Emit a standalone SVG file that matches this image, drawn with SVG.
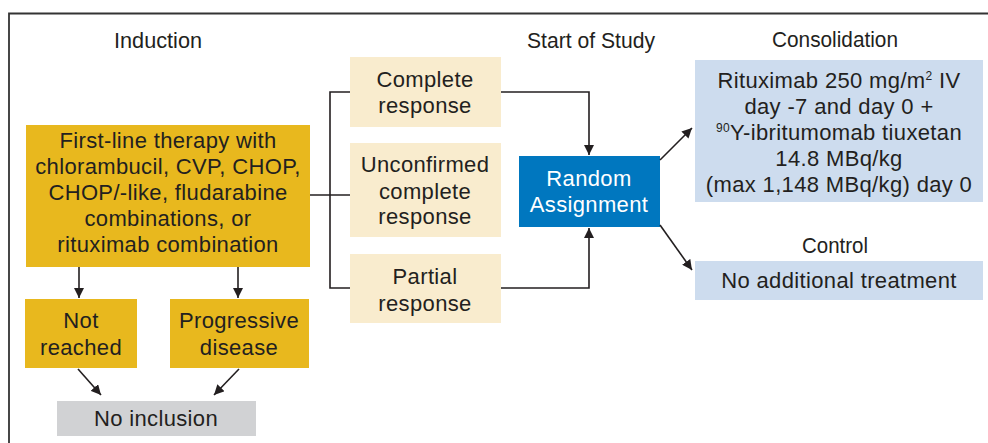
<svg xmlns="http://www.w3.org/2000/svg" width="988" height="443" viewBox="0 0 988 443">
<style>
.t{font-family:"Liberation Sans",Arial,sans-serif;font-size:22px;fill:#231f20;text-anchor:middle;letter-spacing:0.35px}
.h{font-family:"Liberation Sans",Arial,sans-serif;font-size:22px;fill:#231f20;text-anchor:middle}
.w{fill:#ffffff}
.ln{fill:none;stroke:#231f20;stroke-width:1.6}
.sup{font-size:12px}
</style>
<defs>
<marker id="ah" viewBox="0 0 10 10" refX="10" refY="5" markerWidth="10" markerHeight="10" markerUnits="userSpaceOnUse" orient="auto">
<path d="M0,0 L10,5 L0,10 Z" fill="#231f20"/>
</marker>
</defs>
<rect width="988" height="443" fill="#ffffff"/>
<path d="M9,443 L9,13.5 L988,13.5" fill="none" stroke="#333333" stroke-width="1.8"/>
<g id="labels">
<text class="h" x="158" y="48" textLength="88" lengthAdjust="spacingAndGlyphs">Induction</text>
<text class="h" x="591" y="48" textLength="128" lengthAdjust="spacingAndGlyphs">Start of Study</text>
<text class="h" x="835" y="47" textLength="126" lengthAdjust="spacingAndGlyphs">Consolidation</text>
<text class="h" x="835" y="253" textLength="66" lengthAdjust="spacingAndGlyphs">Control</text>
</g>
<g id="first-line">
<rect x="26" y="125" width="284" height="142" fill="#e8b81e"/>
<text class="t" x="168" y="148">First-line therapy with</text>
<text class="t" x="168" y="174">chlorambucil, CVP, CHOP,</text>
<text class="t" x="168" y="200">CHOP/-like, fludarabine</text>
<text class="t" x="168" y="226">combinations, or</text>
<text class="t" x="168" y="252">rituximab combination</text>
</g>
<g id="not-reached">
<rect x="25" y="299" width="112" height="69" fill="#e8b81e"/>
<text class="t" x="81" y="328">Not</text>
<text class="t" x="81" y="355">reached</text>
</g>
<g id="progressive">
<rect x="170" y="299" width="139" height="69" fill="#e8b81e"/>
<text class="t" x="239" y="328">Progressive</text>
<text class="t" x="239" y="355">disease</text>
</g>
<g id="no-inclusion">
<rect x="57" y="401" width="199" height="35" fill="#d1d2d4"/>
<text class="t" x="156" y="426">No inclusion</text>
</g>
<g id="complete">
<rect x="350" y="57" width="151" height="70" fill="#f9ecce"/>
<text class="t" x="425" y="87">Complete</text>
<text class="t" x="425" y="113">response</text>
</g>
<g id="unconfirmed">
<rect x="350" y="143" width="151" height="94" fill="#f9ecce"/>
<text class="t" x="425" y="172">Unconfirmed</text>
<text class="t" x="425" y="199">complete</text>
<text class="t" x="425" y="224">response</text>
</g>
<g id="partial">
<rect x="350" y="254" width="151" height="69" fill="#f9ecce"/>
<text class="t" x="425" y="284">Partial</text>
<text class="t" x="425" y="311">response</text>
</g>
<g id="random">
<rect x="519" y="156" width="141" height="71" fill="#0077bf"/>
<text class="t w" x="589" y="186">Random</text>
<text class="t w" x="589" y="212">Assignment</text>
</g>
<g id="rituximab">
<rect x="695" y="60" width="288" height="142" fill="#cddcee"/>
<text class="t" x="839" y="88">Rituximab 250 mg/m<tspan class="sup" dy="-8">2</tspan><tspan dy="8"> IV</tspan></text>
<text class="t" x="839" y="114">day -7 and day 0 +</text>
<text class="t" x="839" y="140"><tspan class="sup" dy="-8">90</tspan><tspan dy="8">Y-ibritumomab tiuxetan</tspan></text>
<text class="t" x="839" y="166">14.8 MBq/kg</text>
<text class="t" x="839" y="192">(max 1,148 MBq/kg) day 0</text>
</g>
<g id="no-additional">
<rect x="695" y="261" width="288" height="39" fill="#cddcee"/>
<text class="t" x="839" y="288">No additional treatment</text>
</g>
<g id="connectors">
<line class="ln" x1="79" y1="267" x2="79" y2="298" marker-end="url(#ah)"/>
<line class="ln" x1="238" y1="267" x2="238" y2="298" marker-end="url(#ah)"/>
<line class="ln" x1="78" y1="369" x2="101" y2="395" marker-end="url(#ah)"/>
<line class="ln" x1="239" y1="369" x2="214" y2="395" marker-end="url(#ah)"/>
<path class="ln" d="M310,195 L350,195"/>
<path class="ln" d="M350,92 L330,92 L330,288 L350,288"/>
<path class="ln" d="M501,92 L589,92 L589,155" marker-end="url(#ah)"/>
<path class="ln" d="M501,288 L589,288 L589,228" marker-end="url(#ah)"/>
<line class="ln" x1="660" y1="160" x2="692" y2="128" marker-end="url(#ah)"/>
<line class="ln" x1="660" y1="225" x2="692" y2="270" marker-end="url(#ah)"/>
</g>
</svg>
